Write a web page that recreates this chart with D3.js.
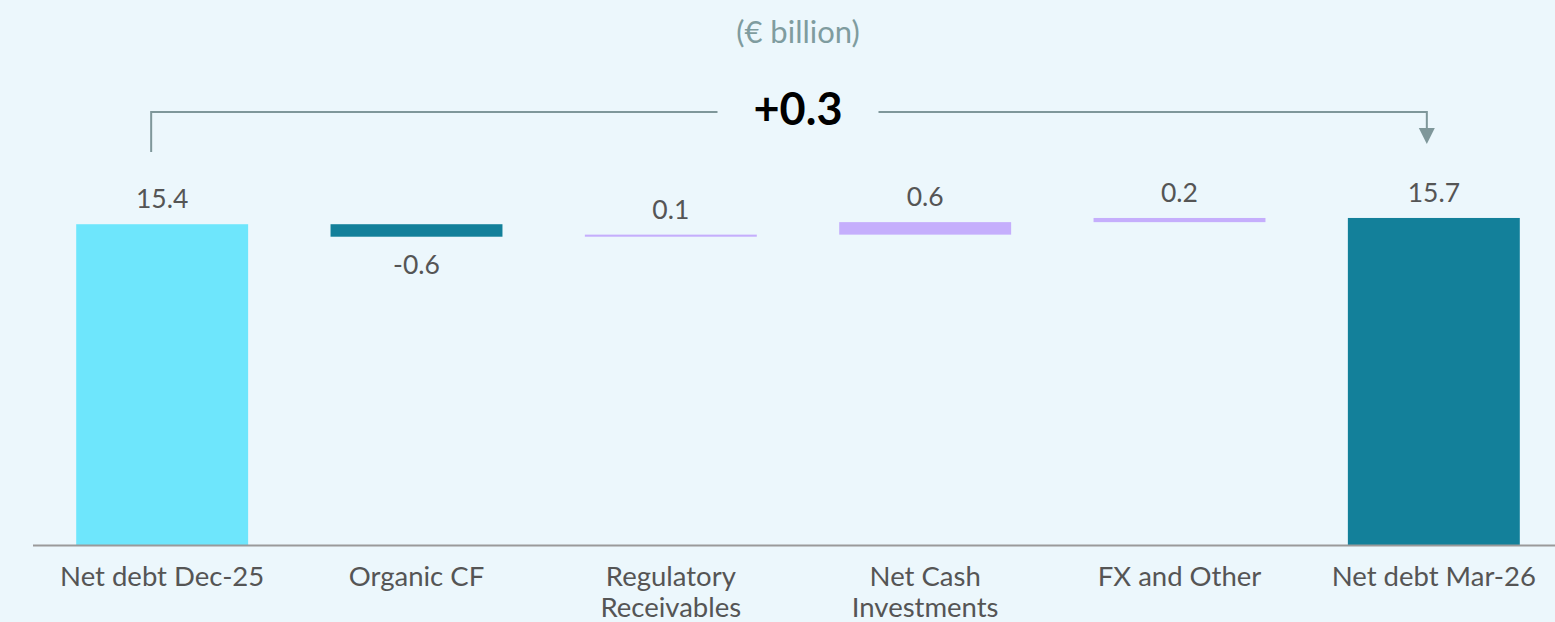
<!DOCTYPE html>
<html>
<head>
<meta charset="utf-8">
<script src="https://cdn.jsdelivr.net/npm/d3@7"></script>
<style>
  html, body { margin: 0; padding: 0; background: #ecf7fc; }
  svg { display: block; font-family: Lato, "Noto Sans", sans-serif; }
</style>
</head>
<body>
<svg id="chart" width="1555" height="622"></svg>
<script>
// waterfall: net debt bridge Dec-25 -> Mar-26 (€ billion)
const categories = ['Net debt Dec-25', 'Organic CF', 'Regulatory Receivables', 'Net Cash Investments', 'FX and Other', 'Net debt Mar-26'];
const labelLines = [['Net debt Dec-25'], ['Organic CF'], ['Regulatory', 'Receivables'], ['Net Cash', 'Investments'], ['FX and Other'], ['Net debt Mar-26']];
const values = [15.4, -0.6, 0.1, 0.6, 0.2, 15.7];
const kinds  = ['total', 'delta', 'delta', 'delta', 'delta', 'total'];
const unitLabel = '(€ billion)';

const W = 1555, H = 622;
const BASE_Y = 545;       // axis baseline
const PX_PER_UNIT = 20.83;

const COL_START = '#6ee6fc';
const COL_NEG   = '#13809a';
const COL_POS   = '#c5aefc';
const COL_END   = '#13809a';
const COL_TEXT  = '#555555';
const COL_LINE  = '#7f979a';

const fmt = d3.formatLocale({ decimal: '.', thousands: ',', grouping: [3], currency: ['', ''], minus: '-' }).format('.1f');

// running totals
let run = 0;
const bars = categories.map((c, i) => {
  let y0, y1;
  if (kinds[i] === 'total') { y0 = 0; y1 = values[i]; run = values[i]; }
  else { y0 = run; y1 = run + values[i]; run = y1; }
  let fill;
  if (i === 0) fill = COL_START;
  else if (kinds[i] === 'total') fill = COL_END;
  else fill = values[i] < 0 ? COL_NEG : COL_POS;
  return { cat: c, value: values[i], lo: Math.min(y0, y1), hi: Math.max(y0, y1), fill, kind: kinds[i] };
});

const x = d3.scaleBand()
  .domain(categories)
  .range([35, 1561])
  .paddingInner(0.324)
  .paddingOuter(0.162);

const y = d3.scaleLinear()
  .domain([0, 16])
  .range([BASE_Y, BASE_Y - 16 * PX_PER_UNIT]);

const svg = d3.select('#chart');
const cx = c => x(c) + x.bandwidth() / 2;

// unit title
svg.append('text')
  .attr('x', (x.range()[0] + x.range()[1]) / 2)
  .attr('y', 43)
  .attr('text-anchor', 'middle')
  .attr('fill', '#7f9c9f')
  .style('font-size', '31px')
  .text(unitLabel);

// bars
svg.append('g').selectAll('rect')
  .data(bars)
  .join('rect')
  .attr('x', d => x(d.cat))
  .attr('width', x.bandwidth())
  .attr('y', d => y(d.hi))
  .attr('height', d => Math.max(1.5, y(d.lo) - y(d.hi)))
  .attr('fill', d => d.fill);

// value labels
svg.append('g').selectAll('text')
  .data(bars)
  .join('text')
  .attr('x', d => cx(d.cat))
  .attr('y', d => (d.kind === 'delta' && d.value < 0) ? y(d.lo) + 37 : y(d.hi) - 16)
  .attr('text-anchor', 'middle')
  .attr('fill', COL_TEXT)
  .style('font-size', '26.5px')
  .text(d => fmt(d.value));

// baseline
svg.append('line')
  .attr('x1', 33).attr('x2', W)
  .attr('y1', BASE_Y + 0.5).attr('y2', BASE_Y + 0.5)
  .attr('stroke', '#9a9a9a')
  .attr('stroke-width', 2);

// category labels
const catG = svg.append('g').selectAll('text')
  .data(categories)
  .join('text')
  .attr('x', d => cx(d))
  .attr('y', 586)
  .attr('text-anchor', 'middle')
  .attr('fill', COL_TEXT)
  .style('font-size', '27.5px');
catG.selectAll('tspan')
  .data((d, i) => labelLines[i])
  .join('tspan')
  .attr('x', function () { return d3.select(this.parentNode).attr('x'); })
  .attr('dy', (d, i) => i === 0 ? 0 : 31)
  .text(d => d);

// bracket with total change
const change = values[values.length - 1] - values[0];
const bx1 = cx(categories[0]) - 11;
const bx2 = cx(categories[categories.length - 1]) - 7;
const by = 112;
const mid = (x.range()[0] + x.range()[1]) / 2;

const chg = svg.append('text')
  .attr('x', mid)
  .attr('y', 125)
  .attr('text-anchor', 'middle')
  .attr('fill', '#000')
  .style('font-size', '45px')
  .style('font-weight', 'bold')
  .text((change > 0 ? '+' : '') + fmt(change));
const tb = chg.node().getBBox();
const gap = 36;

svg.append('path')
  .attr('d', `M${bx1},152 V${by} H${tb.x - gap}`)
  .attr('fill', 'none')
  .attr('stroke', COL_LINE)
  .attr('stroke-width', 2);
svg.append('path')
  .attr('d', `M${tb.x + tb.width + gap},${by} H${bx2} V${by + 18}`)
  .attr('fill', 'none')
  .attr('stroke', COL_LINE)
  .attr('stroke-width', 2);
svg.append('path')
  .attr('d', `M${bx2 - 8},${by + 16} L${bx2 + 8},${by + 16} L${bx2},${by + 32} Z`)
  .attr('fill', COL_LINE);
</script>
</body>
</html>
